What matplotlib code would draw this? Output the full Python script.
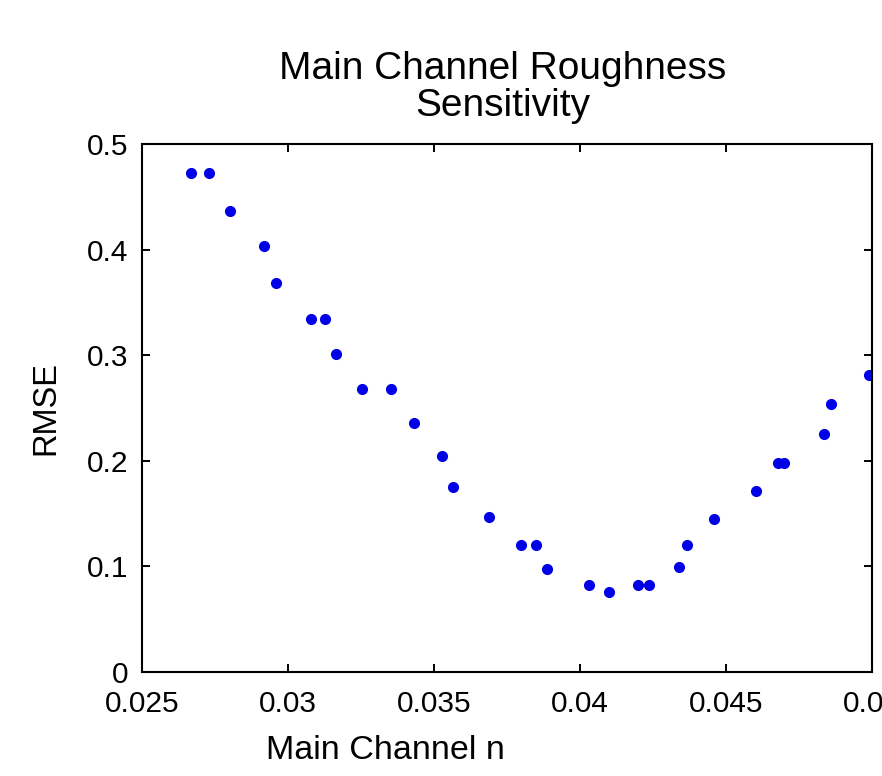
import matplotlib.pyplot as plt
from matplotlib.ticker import FuncFormatter

# roughness values (Manning's n) and the resulting RMSE
n_values = [0.02669, 0.02730, 0.02801, 0.02918, 0.02959, 0.03078, 0.03127,
            0.03164, 0.03254, 0.03353, 0.03432, 0.03527, 0.03565, 0.03687,
            0.03797, 0.03849, 0.03886, 0.04031, 0.04098, 0.04198, 0.04237,
            0.04339, 0.04368, 0.04458, 0.04603, 0.04679, 0.04700, 0.04835,
            0.04859, 0.04990]
rmse = [0.473, 0.473, 0.437, 0.403, 0.368, 0.334, 0.334,
        0.301, 0.268, 0.268, 0.236, 0.205, 0.175, 0.147,
        0.120, 0.120, 0.098, 0.082, 0.076, 0.082, 0.082,
        0.099, 0.120, 0.145, 0.171, 0.198, 0.198, 0.225,
        0.254, 0.281]

x_ticks = [0.025, 0.03, 0.035, 0.04, 0.045, 0.05]
y_ticks = [0, 0.1, 0.2, 0.3, 0.4, 0.5]

plt.rcParams['font.family'] = ['Liberation Sans', 'DejaVu Sans']

fig = plt.figure(figsize=(8.82, 7.76), dpi=100)
ax = fig.add_axes([142/882, 104/776, 730/882, 528/776])

ax.plot(n_values, rmse, 'o', color='#0000e6', markersize=7, linestyle='none')

ax.set_xlim(0.025, 0.05)
ax.set_ylim(0, 0.5)
ax.set_xticks(x_ticks)
ax.set_yticks(y_ticks)
fmt = FuncFormatter(lambda v, p: '%g' % round(v, 4))
ax.xaxis.set_major_formatter(fmt)
ax.yaxis.set_major_formatter(fmt)

ax.tick_params(direction='in', length=6, width=1.4, top=True, right=True,
               labelsize=21.5)
ax.tick_params(axis='x', pad=13)
ax.tick_params(axis='y', pad=10)
for s in ax.spines.values():
    s.set_linewidth(1.5)

ax.set_title('Main Channel Roughness\nSensitivity', fontsize=28, pad=20,
             linespacing=1.05, x=0.494)
ax.set_xlabel('Main Channel n', fontsize=24.5)
ax.set_ylabel('RMSE', fontsize=23.5)
ax.xaxis.set_label_coords(0.333, -0.12)
ax.yaxis.set_label_coords(-0.11, 0.5)

fig.savefig('out.png', dpi=100)
